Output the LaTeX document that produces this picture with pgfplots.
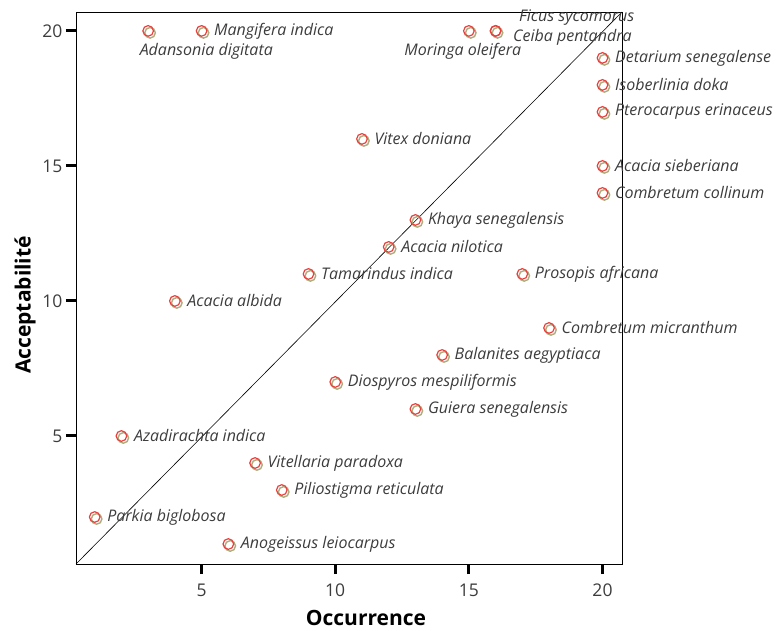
\documentclass[border=0pt]{standalone}
\usepackage{pgfplots}
\usepackage{pgfplotstable}
\usepackage{fontspec}
\setmainfont{Open Sans}
\pgfplotsset{compat=1.18}

\definecolor{ptred}{HTML}{E8413C}
\definecolor{ptshadow}{HTML}{ADAD80}
\definecolor{lblgray}{HTML}{3C3C3C}

% species with the label to the right of the point
\pgfplotstableread[col sep=comma]{
x,y,name
5,20,Mangifera indica
20,19,Detarium senegalense
20,18,Isoberlinia doka
20,17,Pterocarpus erinaceus
11,16,Vitex doniana
20,15,Acacia sieberiana
20,14,Combretum collinum
13,13,Khaya senegalensis
12,12,Acacia nilotica
9,11,Tamarindus indica
17,11,Prosopis africana
4,10,Acacia albida
18,9,Combretum micranthum
14,8,Balanites aegyptiaca
10,7,Diospyros mespiliformis
13,6,Guiera senegalensis
2,5,Azadirachta indica
7,4,Vitellaria paradoxa
8,3,Piliostigma reticulata
1,2,Parkia biglobosa
6,1,Anogeissus leiocarpus
}\species

\pgfplotsset{
  pt/.style={only marks, mark=o, mark size=5.3pt, color=ptred, line width=1.2pt,
    point meta=explicit symbolic, nodes near coords},
  shadow/.style={only marks, mark=o, mark size=5.3pt, color=ptshadow,
    line width=1.4pt, mark options={xshift=1.9pt, yshift=-1.9pt}},
  lbl/.style={every node near coord/.append style={inner sep=0pt,
    font=\fontsize{16}{18}\selectfont\itshape, text=lblgray, #1}},
}

\begin{document}
\begin{tikzpicture}
\begin{axis}[
    scale only axis,
    width=546pt, height=552pt,
    xmin=0.30, xmax=20.73,
    ymin=0.26, ymax=20.7,
    xtick={5,10,15,20},
    ytick={5,10,15,20},
    tick align=outside,
    tick pos=left,
    major tick length=10pt,
    every tick/.style={black, line width=3pt},
    axis line style={line width=0.8pt},
    tick label style={font=\fontsize{17.5}{20}\selectfont, text=lblgray},
    xticklabel style={yshift=-6pt},
    /pgf/number format/assume math mode=true,
    xlabel={Occurrence},
    ylabel={Acceptabilité},
    label style={font=\fontsize{21}{24}\selectfont\bfseries},
    xlabel style={xshift=17pt, yshift=-7pt},
    ylabel style={xshift=-17pt, yshift=0pt},
    clip=false,
]
\draw[black, line width=0.6pt] (rel axis cs:0,0) -- (rel axis cs:1,1);

% shadows
\addplot[shadow] table[x=x, y=y] {\species};
\addplot[shadow] coordinates {(3,20) (15,20) (16,20)};

% points
\addplot[pt, lbl={anchor=west, xshift=12pt}] table[x=x, y=y, meta=name] {\species};
\addplot[pt, lbl={anchor=west, xshift=-9pt, yshift=-20pt}]
    coordinates {(3,20) [Adansonia digitata]};
\addplot[pt, lbl={anchor=east, xshift=53pt, yshift=-20pt}]
    coordinates {(15,20) [Moringa oleifera]};
\addplot[pt, lbl={anchor=west, xshift=23pt, yshift=13pt}]
    coordinates {(16,20) [Ficus sycomorus]};
\addplot[pt, lbl={anchor=west, xshift=17pt, yshift=-6pt}]
    coordinates {(16,20) [Ceiba pentandra]};
\end{axis}
\pgfresetboundingbox
\path (-76pt,-66pt) rectangle (700pt,564pt);
\end{tikzpicture}
\end{document}
